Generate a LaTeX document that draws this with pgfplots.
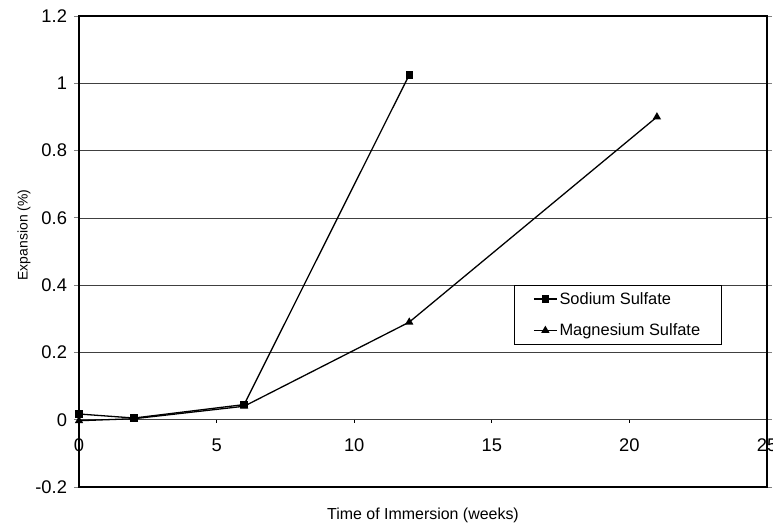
\documentclass[border=0pt]{standalone}
\usepackage{pgfplots}
\pgfplotsset{compat=1.18}
\usepackage{fontspec}
\setmainfont{Liberation Sans}
\begin{document}
\begin{tikzpicture}
\begin{axis}[
  scale only axis, width=688bp, height=471bp,
  xmin=0, xmax=25, ymin=-0.2, ymax=1.2,
  xtick={0,5,10,15,20,25},
  ytick={-0.2,0,0.2,0.4,0.6,0.8,1,1.2},
  /pgf/number format/assume math mode=true,
  /pgf/number format/fixed,
  xticklabel={\pgfmathprintnumber{\tick}},
  yticklabel={\pgfmathprintnumber{\tick}},
  ymajorgrids,
  grid style={black!75, line width=0.7pt},
  axis line style={line width=1.1pt},
  xtick style={draw=none},
  ytick style={line width=0.8pt},
  tick align=outside, major tick length=5bp,
  xticklabel style={yshift=57bp, font=\fontsize{16}{19}\selectfont, scale=1.15},
  yticklabel style={xshift=-3bp, font=\fontsize{16}{19}\selectfont, scale=1.15},
  xlabel={Time of Immersion (weeks)},
  xlabel style={at={(axis description cs:0.5,0)}, anchor=center, yshift=-28bp, font=\fontsize{16}{19}\selectfont},
  ylabel={Expansion (\%)},
  ylabel style={at={([xshift=-55bp]axis description cs:0,0.535)}, anchor=center, font=\fontsize{14}{16}\selectfont},
  clip=false,
  legend style={at={(rel axis cs:0.632,0.429)}, anchor=north west, draw=black, line width=0.8pt,
    font=\fontsize{16.5}{19}\selectfont, row sep=14bp, inner xsep=19bp, inner ysep=5bp, cells={anchor=west}},
  legend image code/.code={\draw[#1, mark repeat=2, mark phase=2] plot coordinates {(0bp,0bp) (11.5bp,0bp) (23bp,0bp)};},
]
\addplot[black, line width=1.3pt, mark=square*, mark size=3bp, mark options={solid}] coordinates {(0,0.017)(2,0.005)(6,0.045)(12,1.025)};
\addplot[black, line width=1.3pt, mark=triangle*, mark size=3.5bp, mark options={solid}] coordinates {(0,-0.003)(2,0.003)(6,0.04)(12,0.29)(21,0.9)};
\legend{Sodium Sulfate, Magnesium Sulfate}
\pgfplotsinvokeforeach{5,10,15,20}{\draw[line width=0.8pt] (axis cs:#1,0) -- ([yshift=-3bp]axis cs:#1,0);}
\end{axis}
\pgfresetboundingbox
\path (-79bp,-39bp) rectangle (694bp,487bp);
\end{tikzpicture}
\end{document}
